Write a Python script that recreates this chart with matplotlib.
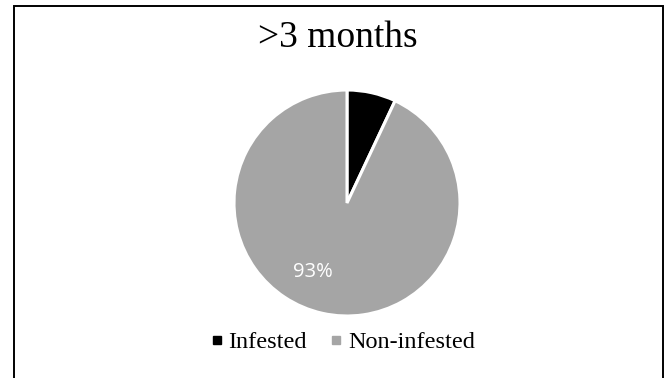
import matplotlib

matplotlib.use("Agg")
import matplotlib.pyplot as plt
from matplotlib.lines import Line2D
from matplotlib.patches import Rectangle

title = ">3 months"
categories = ["Infested", "Non-infested"]
shares = [7, 93]
colors = ["#000000", "#A5A5A5"]

W, H = 670, 378
fig = plt.figure(figsize=(W / 100, H / 100), dpi=100)
fig.patch.set_facecolor("white")

# chart frame, open at the bottom edge
fig.add_artist(Rectangle((14 / W, -0.05), (663 - 14) / W, 1.05 - 6.5 / H,
                         transform=fig.transFigure, fill=False,
                         edgecolor="black", linewidth=1.4, clip_on=False))

fig.text(338 / W, 1 - 38 / H, title, ha="center", va="center",
         fontsize=27, family="Liberation Serif")

r = 113
ax = fig.add_axes([(347 - r) / W, (H - 203 - r) / H, 2 * r / W, 2 * r / H])
wedges, texts, autotexts = ax.pie(
    shares, colors=colors, startangle=90, counterclock=False,
    autopct=lambda p: f"{p:.0f}%",
    wedgeprops=dict(edgecolor="white", linewidth=2.2),
    textprops=dict(color="white", fontsize=14.5, family="Open Sans"),
)
autotexts[0].set_visible(False)
autotexts[1].set_position((-0.30, -0.61))
ax.set_xlim(-1, 1)
ax.set_ylim(-1, 1)
ax.set_aspect("equal")
ax.axis("off")

handles = [Line2D([], [], marker="s", linestyle="none", markersize=5.4,
                  markerfacecolor=c, markeredgecolor=c) for c in colors]
fig.legend(handles, categories, loc="center", bbox_to_anchor=(344 / W, 1 - 342 / H),
           ncol=2, frameon=False, prop=dict(family="Liberation Serif", size=17.5),
           handlelength=0.3, handletextpad=0.33, columnspacing=1.05)

fig.savefig("out.png", dpi=100)
